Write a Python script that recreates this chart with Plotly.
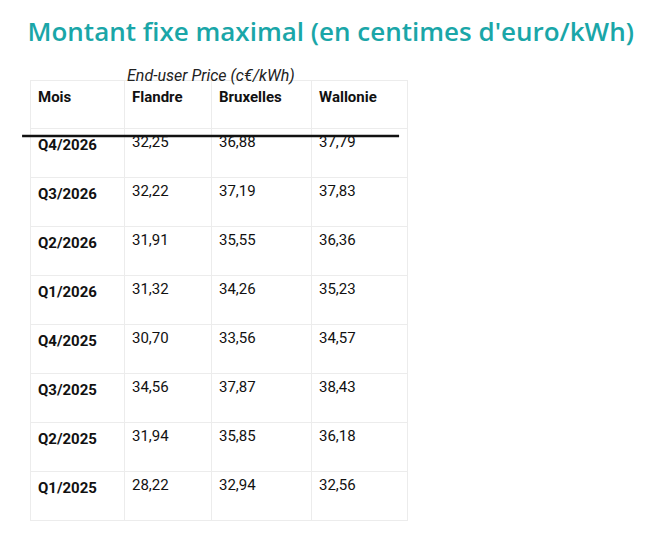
import plotly.graph_objects as go

columns = ["Mois", "Flandre", "Bruxelles", "Wallonie"]
mois = ["Q4/2026", "Q3/2026", "Q2/2026", "Q1/2026", "Q4/2025", "Q3/2025", "Q2/2025", "Q1/2025"]
flandre = ["32,25", "32,22", "31,91", "31,32", "30,70", "34,56", "31,94", "28,22"]
bruxelles = ["36,88", "37,19", "35,55", "34,26", "33,56", "37,87", "35,85", "32,94"]
wallonie = ["37,79", "37,83", "36,36", "35,23", "34,57", "38,43", "36,18", "32,56"]

grid = "#ececec"
fig = go.Figure(
    go.Table(
        columnwidth=[94, 87, 100, 96],
        header=dict(
            values=["<b>%s</b>" % c for c in columns],
            fill_color="white",
            line_color=grid,
            align="left",
            height=48,
            font=dict(family="Roboto", size=15, color="#111"),
        ),
        cells=dict(
            values=[["<b>%s</b>" % m for m in mois], flandre, bruxelles, wallonie],
            fill_color="white",
            line_color=grid,
            align="left",
            height=49,
            font=dict(family="Roboto", size=15, color="#111"),
        ),
    )
)

# thick rule under the header
fig.add_shape(type="line", xref="paper", yref="paper", x0=-0.021, x1=0.979,
              y0=1 - 56 / 441, y1=1 - 56 / 441, line=dict(color="#111", width=2.5))

fig.add_annotation(text="<i>End-user Price (c€/kWh)</i>", xref="paper", yref="paper",
                   x=0.48, y=1, yanchor="bottom", yshift=-7, showarrow=False,
                   font=dict(family="Roboto", size=16, color="#222"))

fig.update_layout(
    title=dict(text="Montant fixe maximal (en centimes d'euro/kWh)", x=0.03, xanchor="left",
               y=0.955, yanchor="middle",
               font=dict(family="Open Sans", size=26, color="#1aa6a8", weight=600)),
    width=650,
    height=541,
    margin=dict(l=22, r=251, t=72, b=28),
    paper_bgcolor="white",
)

fig.write_html("out.html")
